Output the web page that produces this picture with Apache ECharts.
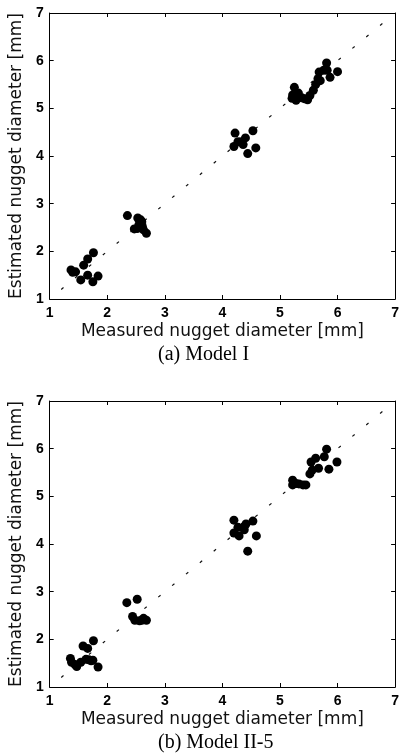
<!DOCTYPE html>
<html>
<head>
<meta charset="utf-8">
<script src="https://cdn.jsdelivr.net/npm/echarts@6/dist/echarts.min.js"></script>
<style>
	html, body { margin: 0; padding: 0; background: #fff; }
	#chart { width: 402px; height: 755px; }
</style>
</head>
<body>
<div id="chart"></div>
<script>
// tick values shared by both panels
const ticks = [1, 2, 3, 4, 5, 6, 7];
const diagLine = [1.2, 6.9];

// (a) Model I
const measuredA = [
	1.37, 1.40, 1.45, 1.54, 1.59, 1.66, 1.66, 1.76, 1.75, 1.84,
	2.35, 2.47, 2.52, 2.53, 2.58, 2.55, 2.61, 2.63, 2.68, 2.60,
	4.22, 4.20, 4.27, 4.33, 4.40, 4.36, 4.53, 4.44, 4.58,
	5.25, 5.22, 5.21, 5.28, 5.32, 5.38, 5.43, 5.48, 5.52, 5.58,
	5.62, 5.66, 5.70, 5.68, 5.76, 5.82, 5.81, 5.87, 6.00
];
const estimatedA = [
	1.61, 1.56, 1.57, 1.40, 1.71, 1.84, 1.50, 1.97, 1.36, 1.48,
	2.75, 2.47, 2.48, 2.70, 2.66, 2.56, 2.52, 2.45, 2.38, 2.62,
	4.48, 4.20, 4.30, 4.30, 4.38, 4.24, 4.53, 4.05, 4.17,
	5.44, 5.28, 5.21, 5.17, 5.32, 5.22, 5.20, 5.18, 5.27, 5.38,
	5.50, 5.62, 5.58, 5.76, 5.80, 5.80, 5.95, 5.65, 5.77
];

// (b) Model II-5
const measuredB = [
	1.36, 1.38, 1.44, 1.47, 1.54, 1.58, 1.66, 1.63, 1.68, 1.75, 1.76, 1.84, 1.72,
	2.34, 2.52, 2.44, 2.48, 2.56, 2.63, 2.68, 2.60,
	4.20, 4.20, 4.27, 4.29, 4.36, 4.41, 4.38, 4.53, 4.59, 4.44,
	5.22, 5.22, 5.28, 5.33, 5.40, 5.45, 5.52, 5.56, 5.54, 5.62,
	5.67, 5.77, 5.81, 5.85, 5.99
];
const estimatedB = [
	1.60, 1.52, 1.47, 1.43, 1.52, 1.86, 1.81, 1.58, 1.57, 1.56, 1.97, 1.42, 1.55,
	2.77, 2.84, 2.48, 2.40, 2.39, 2.44, 2.40, 2.40,
	4.50, 4.23, 4.35, 4.17, 4.35, 4.42, 4.30, 4.48, 4.17, 3.85,
	5.34, 5.24, 5.27, 5.26, 5.24, 5.24, 5.47, 5.55, 5.72, 5.80,
	5.59, 5.83, 5.99, 5.57, 5.72
];

const xName = "Measured nugget diameter [mm]";
const yName = "Estimated nugget diameter [mm]";

const chart = echarts.init(document.getElementById("chart"));

const pairs = (xs, ys) => xs.map((x, i) => [x, ys[i]]);

function mainAxis(gridIndex, name, isY) {
	return {
		type: "value",
		gridIndex: gridIndex,
		min: ticks[0],
		max: ticks[ticks.length - 1],
		interval: 1,
		name: name,
		nameLocation: "middle",
		nameGap: isY ? 15 : 24,
		nameTextStyle: {
			color: "#111",
			fontSize: 17,
			fontFamily: "DejaVu Sans"
		},
		axisLine: { show: true, lineStyle: { color: "#000", width: 1 } },
		axisTick: { show: true, inside: true, length: 4, lineStyle: { color: "#000" } },
		axisLabel: {
			color: "#000",
			fontSize: 14,
			fontWeight: "bold",
			fontFamily: "Liberation Sans",
			margin: isY ? 6 : 7
		},
		splitLine: { show: false }
	};
}

function mirrorAxis(gridIndex, position) {
	return {
		type: "value",
		gridIndex: gridIndex,
		position: position,
		min: ticks[0],
		max: ticks[ticks.length - 1],
		interval: 1,
		axisLine: { show: true, onZero: false, lineStyle: { color: "#000", width: 1 } },
		axisTick: { show: true, inside: true, length: 4, lineStyle: { color: "#000" } },
		axisLabel: { show: false },
		splitLine: { show: false }
	};
}

function panelSeries(axisIdx, xs, ys) {
	return [
		{
			type: "line",
			xAxisIndex: axisIdx,
			yAxisIndex: axisIdx,
			data: [[diagLine[0], diagLine[0]], [diagLine[1], diagLine[1]]],
			symbol: "none",
			lineStyle: { color: "#111", width: 1.2, type: [3, 15] },
			silent: true,
			z: 1
		},
		{
			type: "scatter",
			xAxisIndex: axisIdx,
			yAxisIndex: axisIdx,
			data: pairs(xs, ys),
			symbol: "circle",
			symbolSize: 9,
			itemStyle: { color: "#000", opacity: 1 },
			z: 2
		}
	];
}

chart.setOption({
	animation: false,
	backgroundColor: "#fff",
	grid: [
		{ left: 43, top: 13, width: 356, height: 286 },
		{ left: 43, top: 401, width: 356, height: 286 }
	],
	xAxis: [
		mainAxis(0, xName, false),
		mainAxis(1, xName, false),
		mirrorAxis(0, "top"),
		mirrorAxis(1, "top")
	],
	yAxis: [
		mainAxis(0, yName, true),
		mainAxis(1, yName, true),
		mirrorAxis(0, "right"),
		mirrorAxis(1, "right")
	],
	graphic: [
		{
			type: "text",
			left: 158,
			top: 345,
			style: { text: "(a) Model I", fill: "#000", font: "20px 'Liberation Serif'" }
		},
		{
			type: "text",
			left: 158,
			top: 733,
			style: { text: "(b) Model II-5", fill: "#000", font: "20px 'Liberation Serif'" }
		}
	],
	series: [].concat(
		panelSeries(0, measuredA, estimatedA),
		panelSeries(1, measuredB, estimatedB)
	)
});
</script>
</body>
</html>
